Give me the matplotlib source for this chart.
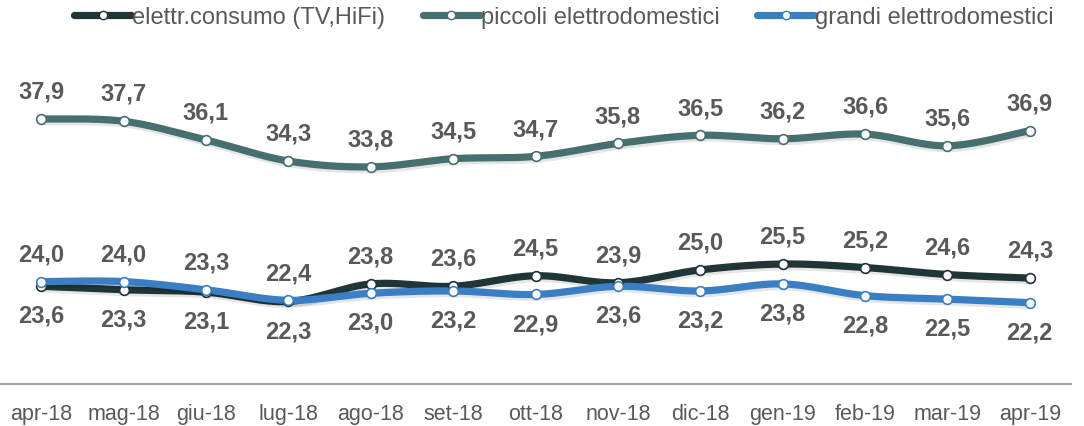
import numpy as np
import matplotlib.pyplot as plt
import matplotlib.patheffects as pe

plt.rcParams['font.family'] = ['Liberation Sans', 'DejaVu Sans']

# dati
mesi = ['apr-18', 'mag-18', 'giu-18', 'lug-18', 'ago-18', 'set-18', 'ott-18',
        'nov-18', 'dic-18', 'gen-19', 'feb-19', 'mar-19', 'apr-19']
elettr_consumo = [23.6, 23.3, 23.1, 22.3, 23.8, 23.6, 24.5, 23.9, 25.0, 25.5, 25.2, 24.6, 24.3]
piccoli = [37.9, 37.7, 36.1, 34.3, 33.8, 34.5, 34.7, 35.8, 36.5, 36.2, 36.6, 35.6, 36.9]
grandi = [24.0, 24.0, 23.3, 22.4, 23.0, 23.2, 22.9, 23.6, 23.2, 23.8, 22.8, 22.5, 22.2]

nomi = ['elettr.consumo (TV,HiFi)', 'piccoli elettrodomestici', 'grandi elettrodomestici']
colori = ['#1f3538', '#46706f', '#3a7ec4']
TESTO = '#595959'


# curva smussata tipo Excel (Catmull-Rom -> Bezier) solo per il disegno
def smooth(x, y, n=30):
    x = np.asarray(x, float)
    y = np.asarray(y, float)
    px = np.concatenate([[x[0]], x, [x[-1]]])
    py = np.concatenate([[y[0]], y, [y[-1]]])
    xs, ys = [], []
    t = np.linspace(0, 1, n)
    for i in range(1, len(px) - 2):
        p0 = np.array([px[i], py[i]])
        p3 = np.array([px[i + 1], py[i + 1]])
        c1 = p0 + (np.array([px[i + 1], py[i + 1]]) - np.array([px[i - 1], py[i - 1]])) / 6
        c2 = p3 - (np.array([px[i + 2], py[i + 2]]) - np.array([px[i], py[i]])) / 6
        b = ((1 - t) ** 3)[:, None] * p0 + (3 * (1 - t) ** 2 * t)[:, None] * c1 \
            + (3 * (1 - t) * t ** 2)[:, None] * c2 + (t ** 3)[:, None] * p3
        xs.append(b[:, 0])
        ys.append(b[:, 1])
    return np.concatenate(xs), np.concatenate(ys)


fig = plt.figure(figsize=(10.84, 4.27), dpi=100)
ax = fig.add_axes([0.0, 1 - 385 / 427, 1071 / 1084, (385 - 45) / 427])

x = np.arange(len(mesi))
ombra = [pe.SimpleLineShadow(offset=(1, -2), alpha=0.1, shadow_color='black'), pe.Normal()]

serie = [elettr_consumo, piccoli, grandi]
for vals, nome, col in zip(serie, nomi, colori):
    sx, sy = smooth(x, vals)
    ax.plot(sx, sy, color=col, lw=5.2, solid_capstyle='round', path_effects=ombra, zorder=3)
    ax.plot(x, vals, 'o', ms=7, mfc='white', mec=col, mew=1.2, zorder=4)
    # handle per la legenda
    ax.plot([], [], color=col, lw=5.2, solid_capstyle='round', marker='o', ms=6,
            mfc='white', mec=col, mew=1, label=nome)

# etichette dati
lab = dict(ha='center', va='center', fontsize=17, fontweight='bold', color=TESTO,
           textcoords='offset points')
for i in range(len(mesi)):
    ax.annotate(f'{piccoli[i]:.1f}'.replace('.', ','), (x[i], piccoli[i]), xytext=(0, 20), **lab)
    a, b = elettr_consumo[i], grandi[i]
    alto, basso = (a, b) if a > b else (b, a)
    ax.annotate(f'{alto:.1f}'.replace('.', ','), (x[i], alto), xytext=(0, 20), **lab)
    ax.annotate(f'{basso:.1f}'.replace('.', ','), (x[i], basso), xytext=(0, -21), **lab)

ax.set_xlim(-0.5, 12.5)
ax.set_ylim(15.25, 44.3)
ax.set_xticks(x)
ax.set_xticklabels(mesi, fontsize=15.5, color=TESTO)
ax.tick_params(axis='x', length=0, pad=14)
ax.set_yticks([])
for s in ['top', 'right', 'left']:
    ax.spines[s].set_visible(False)
ax.spines['bottom'].set_color('#a6a6a6')
ax.spines['bottom'].set_linewidth(1.5)

leg = fig.legend(loc='center', bbox_to_anchor=(0.5 + 22 / 1084, 1 - 18 / 427), ncol=3,
                 frameon=False, fontsize=17, handlelength=2.4, handletextpad=0.05,
                 columnspacing=1.6, borderpad=0, borderaxespad=0)
for t in leg.get_texts():
    t.set_color(TESTO)

fig.savefig('out.png', dpi=100)
